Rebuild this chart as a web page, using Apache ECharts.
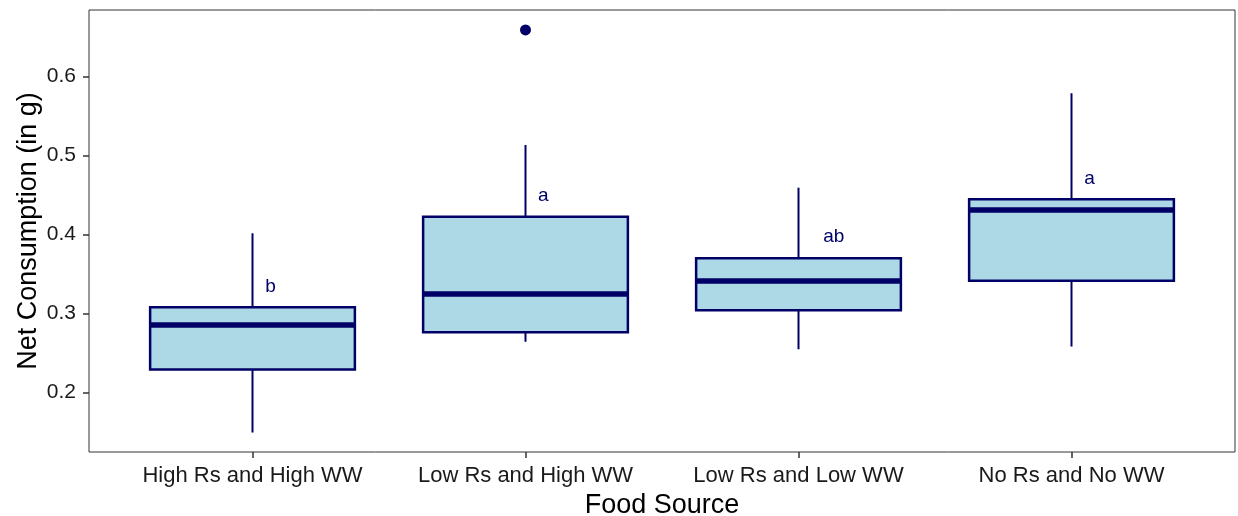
<!DOCTYPE html>
<html>
<head>
<meta charset="utf-8">
<script src="https://cdn.jsdelivr.net/npm/echarts@6/dist/echarts.min.js"></script>
<style>
  html, body { margin: 0; padding: 0; background: #fff; }
  #chart { width: 1238px; height: 516px; }
</style>
</head>
<body>
<div id="chart"></div>
<script>
// Food source groups
const categories = ['High Rs and High WW', 'Low Rs and High WW', 'Low Rs and Low WW', 'No Rs and No WW'];

// Five-number summaries per group (g)
const whiskerLow  = [0.149, 0.264, 0.2545, 0.258];
const quartile1   = [0.229, 0.276, 0.304, 0.3415];
const medians     = [0.2853, 0.3246, 0.341, 0.431];
const quartile3   = [0.3077, 0.4226, 0.3698, 0.4446];
const whiskerHigh = [0.4015, 0.5134, 0.4593, 0.579];

// Outlying observations
const outlierGroup = ['Low Rs and High WW'];
const outlierValue = [0.6592];

// Significance letters (group, height, horizontal nudge in category units)
const letters     = ['b', 'a', 'ab', 'a'];
const letterY     = [0.334, 0.449, 0.397, 0.471];
const letterNudge = [0.066, 0.065, 0.129, 0.066];

// Y tick values
const yTicks = [0.2, 0.3, 0.4, 0.5, 0.6];

const NAVY = '#000066';
const FILL = '#ADD8E6';
const FONT = '"Liberation Sans", Arial, sans-serif';
const Y_MIN = 0.1243, Y_MAX = 0.6845;

const boxData = categories.map((c, i) =>
  [i, whiskerLow[i], quartile1[i], medians[i], quartile3[i], whiskerHigh[i]]);
const outlierData = outlierGroup.map((g, i) => [g, outlierValue[i]]);
const letterData = letters.map((t, i) => [i, letterY[i], letterNudge[i], t]);

function renderBox(params, api) {
  const idx = api.value(0);
  const band = api.size([1, 0])[0];
  const half = band * 0.75 / 2;
  const x = api.coord([idx, api.value(3)])[0];
  const y = v => api.coord([idx, v])[1];
  const yMin = y(api.value(1)), yQ1 = y(api.value(2)), yMed = y(api.value(3));
  const yQ3 = y(api.value(4)), yMax = y(api.value(5));
  return {
    type: 'group',
    children: [
      { type: 'line', shape: { x1: x, y1: yMax, x2: x, y2: yQ3 }, style: { stroke: NAVY, lineWidth: 2 } },
      { type: 'line', shape: { x1: x, y1: yQ1, x2: x, y2: yMin }, style: { stroke: NAVY, lineWidth: 2 } },
      { type: 'rect', shape: { x: x - half, y: yQ3, width: 2 * half, height: yQ1 - yQ3 },
        style: { fill: FILL, stroke: NAVY, lineWidth: 2.5 } },
      { type: 'line', shape: { x1: x - half, y1: yMed, x2: x + half, y2: yMed },
        style: { stroke: NAVY, lineWidth: 5.5 } }
    ]
  };
}

function renderLetter(params, api) {
  const idx = api.value(0);
  const band = api.size([1, 0])[0];
  const p = api.coord([idx, api.value(1)]);
  return {
    type: 'text',
    x: p[0] + api.value(2) * band,
    y: p[1],
    style: {
      text: letters[params.dataIndex],
      fill: NAVY, font: '19px ' + FONT,
      align: 'center', verticalAlign: 'middle'
    }
  };
}

const chart = echarts.init(document.getElementById('chart'), null, { renderer: 'canvas' });
chart.setOption({
  animation: false,
  backgroundColor: '#fff',
  textStyle: { fontFamily: FONT },
  grid: [
    { left: 89, right: 3, top: 10, bottom: 64, show: true, borderColor: '#333', borderWidth: 1,
      backgroundColor: 'transparent', containLabel: false, outerBoundsMode: 'none' },
    { left: 116, right: 30, top: 10, bottom: 64, containLabel: false, outerBoundsMode: 'none' }
  ],
  xAxis: [
    { type: 'value', gridIndex: 0, show: false, min: 0, max: 1 },
    {
      type: 'category', gridIndex: 1, data: categories, boundaryGap: true,
      axisLine: { show: false },
      axisTick: { show: true, alignWithLabel: true, length: 6, lineStyle: { color: '#333', width: 1.5 } },
      axisLabel: { color: '#1a1a1a', fontSize: 22, margin: 13, interval: 0, hideOverlap: false, fontFamily: FONT },
      name: 'Food Source', nameLocation: 'middle', nameGap: 40, nameMoveOverlap: false,
      nameTextStyle: { color: '#000', fontSize: 27, fontFamily: FONT }
    }
  ],
  yAxis: [
    {
      type: 'value', gridIndex: 0, min: Y_MIN, max: Y_MAX,
      axisLine: { show: false },
      splitLine: { show: false },
      axisTick: { show: true, length: 6, customValues: yTicks, lineStyle: { color: '#333', width: 1.5 } },
      axisLabel: { color: '#1a1a1a', fontSize: 21, margin: 13, fontFamily: FONT, customValues: yTicks,
        formatter: v => v.toFixed(1) },
      name: 'Net Consumption (in g)', nameLocation: 'middle', nameGap: 47, nameMoveOverlap: false,
      nameTextStyle: { color: '#000', fontSize: 27, fontFamily: FONT }
    },
    { type: 'value', gridIndex: 1, min: Y_MIN, max: Y_MAX, show: false }
  ],
  series: [
    {
      type: 'custom', xAxisIndex: 1, yAxisIndex: 1,
      renderItem: renderBox, data: boxData,
      encode: { x: 0, y: [1, 2, 3, 4, 5] }
    },
    {
      type: 'scatter', xAxisIndex: 1, yAxisIndex: 1,
      data: outlierData, symbolSize: 11,
      itemStyle: { color: NAVY, opacity: 1 }
    },
    {
      type: 'custom', xAxisIndex: 1, yAxisIndex: 1,
      renderItem: renderLetter, data: letterData,
      encode: { x: 0, y: 1 }
    }
  ]
});
</script>
</body>
</html>
